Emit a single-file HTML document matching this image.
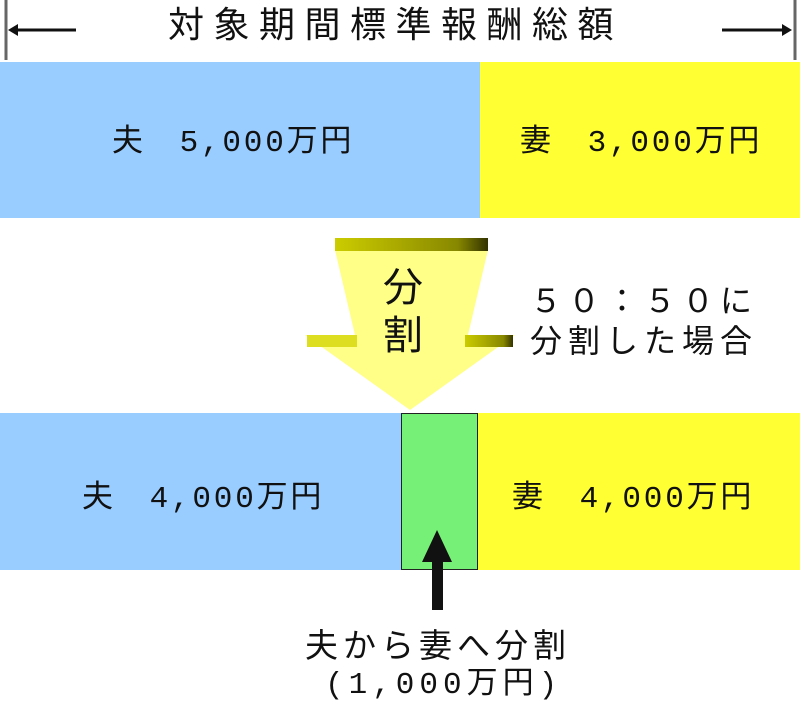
<!DOCTYPE html>
<html><head><meta charset="utf-8"><style>
body{margin:0;width:800px;height:710px;background:#fff;position:relative;overflow:hidden;font-family:"Liberation Mono","Noto Sans CJK JP",monospace;color:#111}
.a{position:absolute}
.t{position:absolute;font-size:31px;white-space:nowrap;line-height:1}
.b{letter-spacing:2.8px}
</style></head><body>
<div class="a" style="left:0;top:62px;width:480px;height:156px;background:#99ccff"></div>
<div class="a" style="left:480px;top:62px;width:320px;height:156px;background:#ffff33"></div>
<div class="a" style="left:0;top:413px;width:402px;height:157px;background:#99ccff"></div>
<div class="a" style="left:478px;top:413px;width:322px;height:157px;background:#ffff33"></div>
<div class="a" style="left:401px;top:413px;width:75px;height:155px;background:#77f077;border:1px solid #222"></div>
<svg class="a" style="left:0;top:0" width="800" height="710">
<defs><linearGradient id="g" x1="0" x2="1"><stop offset="0" stop-color="#cccc00"/><stop offset="0.8" stop-color="#888800"/><stop offset="1" stop-color="#333300"/></linearGradient></defs>
<line x1="6" y1="0" x2="6" y2="60" stroke="#666" stroke-width="3"/>
<line x1="795" y1="0" x2="795" y2="60" stroke="#666" stroke-width="3"/>
<line x1="12" y1="30" x2="76" y2="30" stroke="#111" stroke-width="3"/>
<polygon points="8,30 18,24 18,36" fill="#111"/>
<line x1="722" y1="30" x2="786" y2="30" stroke="#111" stroke-width="3"/>
<polygon points="792,30 782,24 782,36" fill="#111"/>
<polygon points="335,250 488,250 468,335 515,335 410,410 305,335 355,335" fill="#ffff88"/>
<rect x="335" y="238" width="153" height="13" fill="url(#g)"/>
<rect x="307" y="335" width="50" height="12" fill="#dddd22"/>
<rect x="465" y="335" width="48" height="12" fill="url(#g)"/>
<rect x="432" y="560" width="11" height="50" fill="#111"/>
<polygon points="437,530 422,562 452,562" fill="#111"/>
</svg>
<div class="t" style="left:168px;top:10px;font-size:36px;letter-spacing:9.5px">対象期間標準報酬総額</div>
<div class="t b" style="left:112px;top:128px">夫　5,000万円</div>
<div class="t b" style="left:520px;top:128px">妻　3,000万円</div>
<div class="t" style="left:383px;top:268px;font-size:40px;line-height:48px;width:50px">分<br>割</div>
<div class="t" style="left:530px;top:284px;font-size:32px;letter-spacing:6px;line-height:40px">５０：５０に<br>分割した場合</div>
<div class="t b" style="left:82px;top:484px">夫　4,000万円</div>
<div class="t b" style="left:512px;top:484px">妻　4,000万円</div>
<div class="t" style="left:305px;top:632px;font-size:33px;letter-spacing:5px">夫から妻へ分割</div>
<div class="t" style="left:325px;top:670px;letter-spacing:5px">(1,000万円)</div>
</body></html>
